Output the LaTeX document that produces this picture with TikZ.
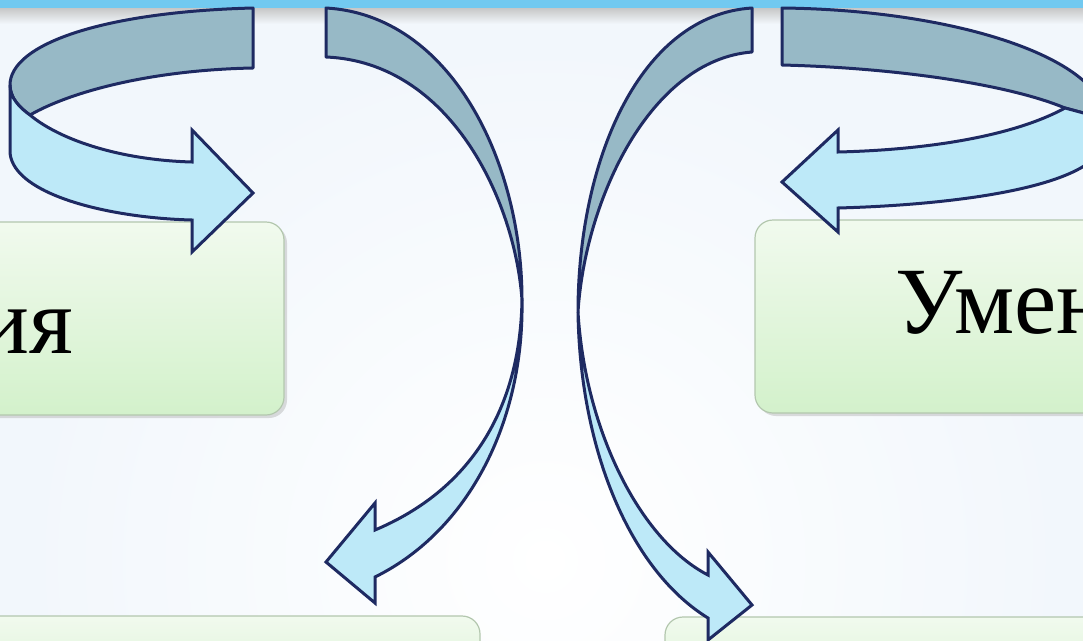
\documentclass[tikz,border=0pt]{standalone}
\usepackage{fontspec}
\setmainfont{Liberation Serif}
\definecolor{bgc}{HTML}{F2F7FC}
\definecolor{barc}{HTML}{72C9F0}
\definecolor{edgec}{HTML}{1E2A62}
\definecolor{backc}{HTML}{97B9C6}
\definecolor{frontc}{HTML}{BDE9F8}
\definecolor{boxtop}{HTML}{F1FAEE}
\definecolor{boxbot}{HTML}{D3F1CB}
\definecolor{boxline}{HTML}{B3C7AE}
\begin{document}
\begin{tikzpicture}[x=1pt,y=-1pt,
  back/.style={fill=backc,draw=edgec,line width=3pt,line join=round},
  front/.style={fill=frontc,draw=edgec,line width=3pt,line join=miter},
  box/.style={rounded corners=18pt,top color=boxtop,bottom color=boxbot,draw=boxline,line width=1.2pt},
  boxshadow/.style={rounded corners=18pt,fill=black!30,opacity=0.45},
  lbl/.style={font=\fontsize{95}{95}\selectfont,inner sep=0pt,text=black}]
\useasboundingbox (0,0) rectangle (1083,640);
\clip (0,0) rectangle (1083,640);
% background
\fill[bgc] (0,0) rectangle (1083,640);
\shade[inner color=white,outer color=bgc] (545,560) circle (520);
% top bar and its shadow
\shade[top color=black!22,bottom color=bgc] (0,8) rectangle (1083,24);
\fill[barc] (0,0) rectangle (1083,8);
% boxes
\fill[boxshadow] (-30,225) rectangle (287,418);
\path[box] (-30,222) rectangle (284,415);
\fill[boxshadow] (758,223) rectangle (1120,416);
\path[box] (755,220) rectangle (1120,413);
\path[box] (-30,616) rectangle (480,720);
\path[box] (665,617) rectangle (1120,720);
% texts
\node[lbl,anchor=base east] (t1) at (73,353) {ия};
\node[lbl,anchor=base west] (t2) at (895,333) {Умен};
% arrow 1 (top left)
\path[back] (253,8) .. controls (100,12) and (10,45) .. (10,85)
  .. controls (10,98) and (20,108) .. (30,115)
  .. controls (70,92) and (150,70) .. (253,68) -- cycle;
\path[front] (10,85) -- (10,153) .. controls (14,195) and (110,218) .. (192,220)
  -- (192,252) -- (253,193) -- (192,130) -- (192,162)
  .. controls (120,160) and (60,140) .. (30,115)
  .. controls (20,108) and (10,98) .. (10,85) -- cycle;
% arrow 2 (top right)
\path[back] (782,8) .. controls (960,10) and (1105,60) .. (1105,120)
  .. controls (1095,116) and (1080,112) .. (1065,108)
  .. controls (1010,85) and (900,68) .. (782,65) -- cycle;
\path[front] (1105,120) -- (1105,140) .. controls (1098,188) and (950,205) .. (838,208)
  -- (838,232) -- (782,182) -- (838,130) -- (838,152)
  .. controls (920,150) and (1010,138) .. (1065,108)
  .. controls (1080,112) and (1095,116) .. (1105,120) -- cycle;
% arrow 3 (middle left)
\path[back] (326,8) .. controls (450,15) and (522,160) .. (522,300)
  .. controls (515,200) and (450,62) .. (326,57) -- cycle;
\path[front] (522,300) .. controls (524,420) and (470,530) .. (375,577)
  -- (375,603) -- (326,562) -- (375,503) -- (375,530)
  .. controls (470,490) and (520,410) .. (522,300) -- cycle;
% arrow 4 (middle right)
\path[back] (752,8) .. controls (640,15) and (578,160) .. (578,312)
  .. controls (585,200) and (650,60) .. (752,52) -- cycle;
\path[front] (578,312) .. controls (580,450) and (630,570) .. (708,618)
  -- (708,640) -- (752,605) -- (708,552) -- (708,575)
  .. controls (640,540) and (585,430) .. (578,312) -- cycle;
\end{tikzpicture}
\end{document}
